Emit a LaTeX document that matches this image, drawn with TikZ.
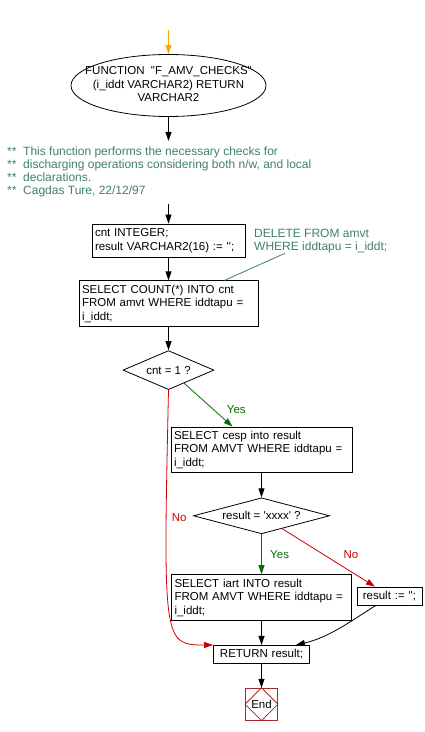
\documentclass[tikz,border=0pt]{standalone}
\usepackage{fontspec}
\setmainfont{Liberation Sans}[Ligatures=TeXOff]
\usepackage{tikz}
\usetikzlibrary{shapes,arrows.meta,positioning}
\definecolor{startorange}{RGB}{255,165,0}
\definecolor{notegreen}{RGB}{64,128,104}
\definecolor{yesgreen}{RGB}{0,110,0}
\definecolor{nored}{RGB}{204,0,0}
\definecolor{endred}{RGB}{165,40,40}
\newcommand{\stars}{\makebox[16pt][l]{**}}

\begin{document}
\begin{tikzpicture}[
    x=1pt, y=1pt,
    font=\fontsize{11.5}{13.5}\selectfont,
    box/.style={rectangle, draw, line width=0.8pt, align=left, inner xsep=3pt, inner ysep=0pt},
    test/.style={diamond, draw, line width=0.8pt, inner sep=0pt},
    flow/.style={-{Triangle[length=9pt,width=6pt]}, line width=0.8pt},
    note/.style={text=notegreen, align=left, inner sep=0pt, font=\fontsize{12}{13}\selectfont},
]
    \useasboundingbox (0,0) rectangle (424,732);

    % Function header
    \coordinate (top) at (168.5,702);
    \node[ellipse, draw, line width=0.8pt, minimum width=195pt, minimum height=62pt, inner sep=0pt] (fn) at (168.5,646.5) {
        \makebox[120pt]{\begin{tabular}{@{}c@{}}
        FUNCTION\ \ "F\_AMV\_CHECKS"\\
        (i\_iddt VARCHAR2) RETURN\\
        VARCHAR2
        \end{tabular}}
    };

    % Comments
    \node[note, anchor=north west, inner ysep=6pt] (cmt) at (7,591) {
        \stars This function performs the necessary checks for\\
        \stars discharging operations considering both n/w, and local\\
        \stars declarations.\\
        \stars Cagdas Ture, 22/12/97
    };
    \node[note, anchor=north west] (del) at (254,503) {
        DELETE FROM amvt\\
        WHERE iddtapu = i\_iddt;
    };

    % Declarations and first select
    \node[box, text width=147pt, minimum height=33pt] (decl) at (168.5,491.5) {
        cnt INTEGER;\\
        result VARCHAR2(16) := '';
    };
    \node[box, text width=173pt, minimum height=46pt, below=23pt of decl] (sel1) {
        SELECT COUNT(*) INTO cnt\\
        FROM amvt WHERE iddtapu =\\
        i\_iddt;
    };
    \node[test, aspect=2.3, minimum width=91pt, minimum height=39pt, below=23pt of sel1] (chk1) {cnt = 1 ?};

    % Yes branch
    \node[box, text width=175pt, minimum height=45pt] (sel2) at (261.5,282.5) {
        SELECT cesp into result\\
        FROM AMVT WHERE iddtapu =\\
        i\_iddt;
    };
    \node[test, aspect=3.7, minimum width=136pt, minimum height=36pt, below=25pt of sel2] (chk2) {result = 'xxxx' ?};
    \node[box, text width=174pt, minimum height=46pt, below=40pt of chk2] (sel3) {
        SELECT iart INTO result\\
        FROM AMVT WHERE iddtapu =\\
        i\_iddt;
    };
    \node[box, align=center, text width=59pt, minimum height=18pt] (res) at (389.5,136) {result := '';};

    % Return and end
    \node[box, align=center, text width=90pt, minimum height=18pt, below=24pt of sel3] (ret) {RETURN result;};
    \node[rectangle, draw=endred, line width=0.8pt, minimum size=32pt, inner sep=0pt, below=24pt of ret] (end) {End};
    \draw[endred, line width=0.8pt] (end.north) -- (end.east) -- (end.south) -- (end.west) -- cycle;

    % Arrows
    \draw[flow, startorange] (top) -- (fn);
    \draw[flow] (fn.south) -- (fn.south |- cmt.north);
    \draw[flow] (decl.north |- cmt.south) -- (decl.north);
    \draw[flow] (decl) -- (sel1);
    \draw[flow] (sel1) -- (chk1);
    \draw[notegreen, line width=0.8pt] ([xshift=31pt]del.south west) -- ([xshift=56pt]sel1.north);
    \draw[flow, yesgreen] (chk1.-40) -- node[pos=0.6, right=10pt] {Yes} ([xshift=-29pt]sel2.north);
    \draw[flow, nored] (chk1.south) .. controls +(-5.5,-252) and +(-50,0) .. node[pos=0.21, right=2pt] {No} (ret.north west);
    \draw[flow] (sel2) -- (chk2);
    \draw[flow, yesgreen] (chk2) -- node[midway, right=5pt] {Yes} (sel3);
    \draw[flow, nored] (chk2.-32) -- node[pos=0.45, right=16pt] {No} ([xshift=-14.5pt]res.north);
    \draw[flow] (sel3) -- (ret);
    \draw[flow] ([xshift=-13.5pt]res.south) .. controls +(-20,-12) and +(35,8) .. ([xshift=-14pt]ret.north east);
    \draw[flow] (ret) -- (end);
\end{tikzpicture}
\end{document}
